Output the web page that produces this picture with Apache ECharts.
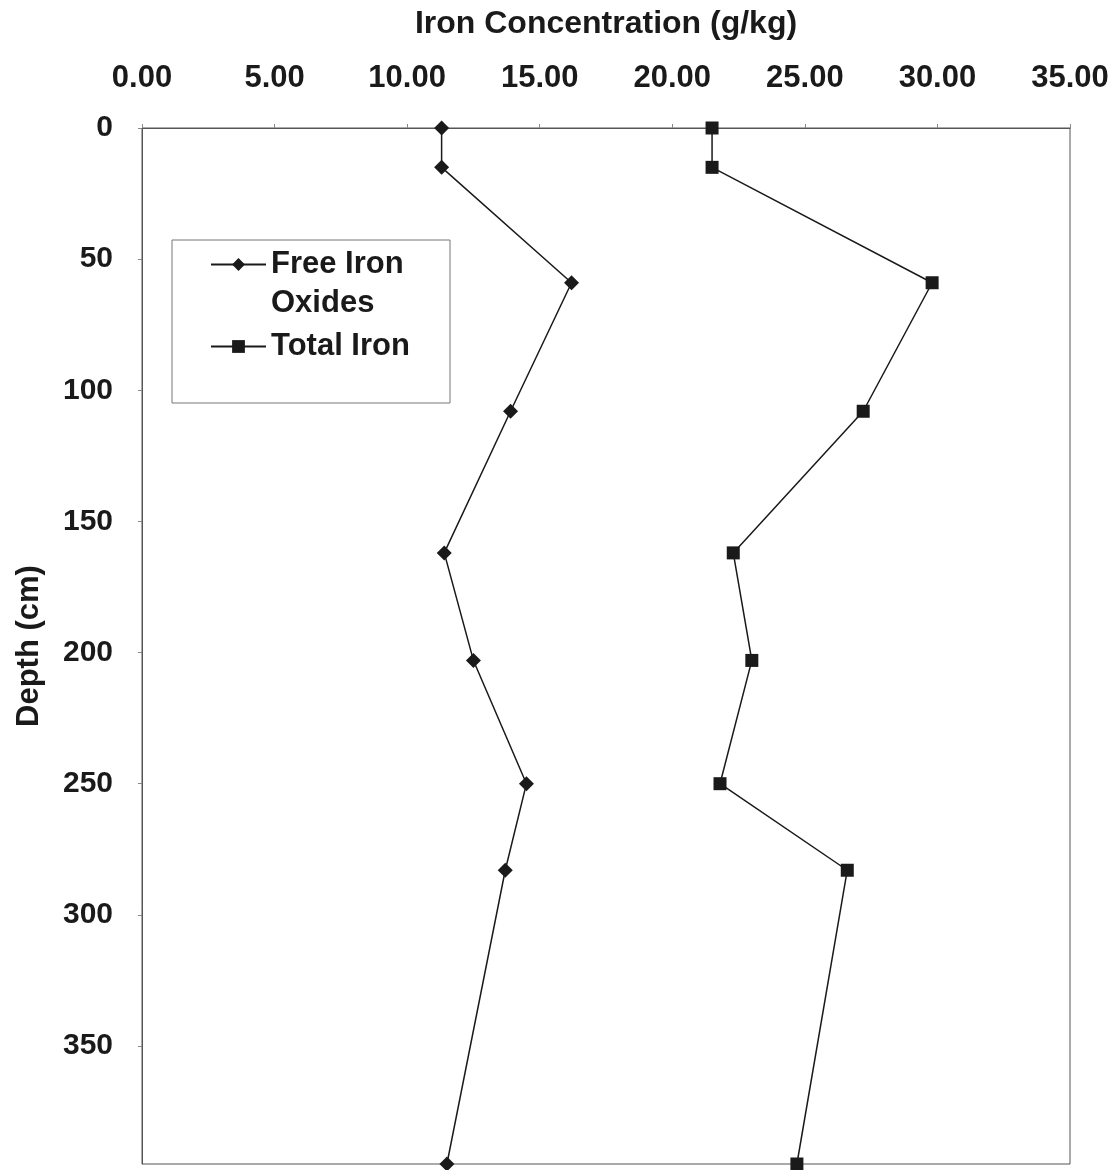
<!DOCTYPE html>
<html>
<head>
<meta charset="utf-8">
<title>Iron Concentration vs Depth</title>
<script src="https://cdn.jsdelivr.net/npm/echarts@6/dist/echarts.min.js"></script>
<style>
  html, body { margin: 0; padding: 0; background: #ffffff; }
  #chart { width: 1119px; height: 1170px; }
</style>
</head>
<body>
<div id="chart"></div>
<script>
// Soil profile: sampling depths (cm) and iron concentrations (g/kg)
const depths = [0, 15, 59, 108, 162, 203, 250, 283, 395];
const freeIronOxides = [11.3, 11.3, 16.2, 13.9, 11.4, 12.5, 14.5, 13.7, 11.5];
const totalIron = [21.5, 21.5, 29.8, 27.2, 22.3, 23.0, 21.8, 26.6, 24.7];

const seriesNames = ['Free Iron Oxides', 'Total Iron'];

const FONT = '"Liberation Sans", Arial, Helvetica, sans-serif';
const INK = '#1a1a1a';

function pairs(values) {
  return values.map((v, i) => [v, depths[i]]);
}

// Shared legend line style; the first entry wraps onto two lines, so an empty
// line of equal height above it keeps the marker level with "Free Iron".
const legendRich = {
  t: { fontFamily: FONT, fontWeight: 'bold', fontSize: 31, lineHeight: 39, color: INK }
};

const chart = echarts.init(document.getElementById('chart'), null, { renderer: 'canvas' });

chart.setOption({
  animation: false,
  backgroundColor: '#ffffff',
  grid: {
    left: 142, top: 128, width: 928, height: 1036,
    show: true, borderColor: '#555', borderWidth: 1, backgroundColor: 'transparent'
  },
  xAxis: {
    type: 'value',
    position: 'top',
    min: 0, max: 35, interval: 5,
    name: 'Iron Concentration (g/kg)',
    nameLocation: 'middle',
    nameGap: 88,
    nameTextStyle: { fontFamily: FONT, fontWeight: 'bold', fontSize: 32, color: INK },
    axisLine: { show: true, lineStyle: { color: '#555', width: 1 } },
    axisTick: { show: true, inside: false, length: 4, lineStyle: { color: '#888' } },
    splitLine: { show: false },
    axisLabel: {
      margin: 34,
      fontFamily: FONT, fontWeight: 'bold', fontSize: 31, color: INK,
      formatter: v => v.toFixed(2)
    }
  },
  yAxis: {
    type: 'value',
    inverse: true,
    min: 0, max: 395, interval: 50,
    name: 'Depth (cm)',
    nameLocation: 'middle',
    nameRotate: 90,
    nameGap: 97,
    nameTextStyle: { fontFamily: FONT, fontWeight: 'bold', fontSize: 31, color: INK },
    axisLine: { show: true, lineStyle: { color: '#555', width: 1 } },
    axisTick: { show: true, inside: false, length: 4, lineStyle: { color: '#888' } },
    splitLine: { show: false },
    axisLabel: {
      margin: 29,
      showMaxLabel: false,
      fontFamily: FONT, fontWeight: 'bold', fontSize: 30, color: INK
    }
  },
  legend: [
    {
      data: [seriesNames[0]],
      orient: 'vertical',
      left: 210, top: 210,
      padding: 0,
      itemWidth: 55, itemHeight: 16,
      formatter: () => '{t| }\n{t|Free Iron}\n{t|Oxides}',
      textStyle: { rich: legendRich }
    },
    {
      data: [seriesNames[1]],
      orient: 'vertical',
      left: 210, top: 331,
      padding: 0,
      itemWidth: 55, itemHeight: 16,
      formatter: '{t|{name}}',
      textStyle: { rich: legendRich }
    }
  ],
  graphic: [
    {
      type: 'rect',
      silent: true,
      shape: { x: 172, y: 240, width: 278, height: 163 },
      style: { fill: 'none', stroke: '#777', lineWidth: 1 }
    }
  ],
  series: [
    {
      name: seriesNames[0],
      type: 'line',
      data: pairs(freeIronOxides),
      symbol: 'diamond',
      symbolSize: [15, 15],
      lineStyle: { color: INK, width: 1.5 },
      itemStyle: { color: INK },
      emphasis: { disabled: true }
    },
    {
      name: seriesNames[1],
      type: 'line',
      data: pairs(totalIron),
      symbol: 'rect',
      symbolSize: 13,
      lineStyle: { color: INK, width: 1.5 },
      itemStyle: { color: INK },
      emphasis: { disabled: true }
    }
  ]
});
</script>
</body>
</html>
